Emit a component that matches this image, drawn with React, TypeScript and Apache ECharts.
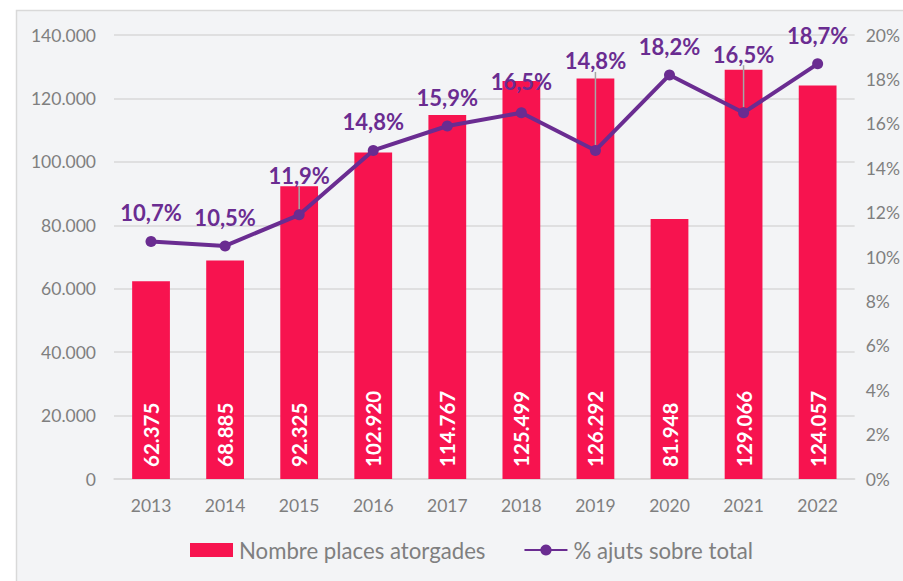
import React, { useEffect, useRef } from "react";
import * as echarts from "echarts";

const years = ["2013", "2014", "2015", "2016", "2017", "2018", "2019", "2020", "2021", "2022"];
const places = [62375, 68885, 92325, 102920, 114767, 125499, 126292, 81948, 129066, 124057];
const ajutsPct = [10.7, 10.5, 11.9, 14.8, 15.9, 16.5, 14.8, 18.2, 16.5, 18.7];
const barName = "Nombre places atorgades";
const lineName = "% ajuts sobre total";

// extra vertical shift of some line labels (Excel moved them, leader lines shown)
const labelShift = [0, 0, -11, 0, 0, -3, -61, 0, -30, 0];

const fmtThousands = (n: number) =>
  Math.round(n).toString().replace(/\B(?=(\d{3})+(?!\d))/g, ".");

const FONT = "Lato, 'Noto Sans', sans-serif";
const BAR = "#f7134f";
const PURPLE = "#6a2c91";
const GRAY = "#7f7f7f";

export default function App() {
  const ref = useRef<HTMLDivElement>(null);
  useEffect(() => {
    if (!ref.current) return;
    const chart = echarts.init(ref.current, undefined, { renderer: "svg" });
    chart.setOption({
      animation: false,
      textStyle: { fontFamily: FONT },
      graphic: [
        {
          type: "rect",
          z: -100,
          silent: true,
          shape: { x: 16.5, y: 10.5, width: 1000, height: 1000 },
          style: { fill: "#f3f4f6", stroke: "#d9d9d9", lineWidth: 1.5 },
        },
      ],
      grid: { left: 114, right: 48, top: 35, bottom: 102, containLabel: false },
      legend: {
        bottom: 15,
        left: 185,
        itemWidth: 43,
        itemHeight: 14,
        itemGap: 38,
        textStyle: { color: GRAY, fontSize: 22.2, fontFamily: FONT, padding: [0, 0, 0, 1] },
        data: [
          { name: barName, icon: "rect" },
          { name: lineName },
        ],
      },
      xAxis: {
        type: "category",
        data: years,
        axisLine: { lineStyle: { color: "#d9d9d9", width: 1.5 } },
        axisTick: { show: false },
        axisLabel: { color: GRAY, fontSize: 17.5, margin: 17, fontFamily: FONT },
      },
      yAxis: [
        {
          type: "value",
          min: 0,
          max: 140000,
          interval: 20000,
          axisLine: { show: false },
          axisTick: { show: false },
          splitLine: { lineStyle: { color: "#d9d9d9", width: 1.5 } },
          axisLabel: {
            color: GRAY,
            fontSize: 17.5,
            margin: 18,
            fontFamily: FONT,
            formatter: (v: number) => fmtThousands(v),
          },
        },
        {
          type: "value",
          min: 0,
          max: 20,
          interval: 2,
          axisLine: { show: false },
          axisTick: { show: false },
          splitLine: { show: false },
          axisLabel: {
            color: GRAY,
            fontSize: 17.5,
            margin: 11,
            fontFamily: FONT,
            formatter: (v: number) => `${v}%`,
          },
        },
      ],
      series: [
        {
          name: barName,
          type: "bar",
          data: places,
          barWidth: "51%",
          itemStyle: { color: BAR },
          label: {
            show: true,
            position: "insideBottom",
            rotate: 90,
            align: "left",
            verticalAlign: "middle",
            distance: 12,
            color: "#ffffff",
            fontSize: 20.5,
            fontWeight: "bold",
            fontFamily: FONT,
            formatter: (p: any) => fmtThousands(p.value),
          },
        },
        {
          name: lineName,
          type: "line",
          yAxisIndex: 1,
          data: ajutsPct.map((v, i) => ({
            value: v,
            labelLine: { show: labelShift[i] < -5 },
          })),
          symbol: "circle",
          symbolSize: 11,
          lineStyle: { color: PURPLE, width: 4 },
          itemStyle: { color: PURPLE },
          z: 5,
          label: {
            show: true,
            position: "top",
            distance: 12,
            color: PURPLE,
            fontSize: 22,
            fontWeight: "bold",
            fontFamily: FONT,
            formatter: (p: any) => `${p.value.toFixed(1).replace(".", ",")}%`,
          },
          labelLine: {
            show: false,
            lineStyle: { color: "#a6a6a6", width: 1.5 },
          },
          labelLayout: (params: any) => ({ dy: labelShift[params.dataIndex] }),
        },
      ],
    });
    return () => chart.dispose();
  }, []);
  return (
    <div
      ref={ref}
      style={{ position: "fixed", left: 0, top: 0, width: 903, height: 581, background: "#ffffff" }}
    />
  );
}
